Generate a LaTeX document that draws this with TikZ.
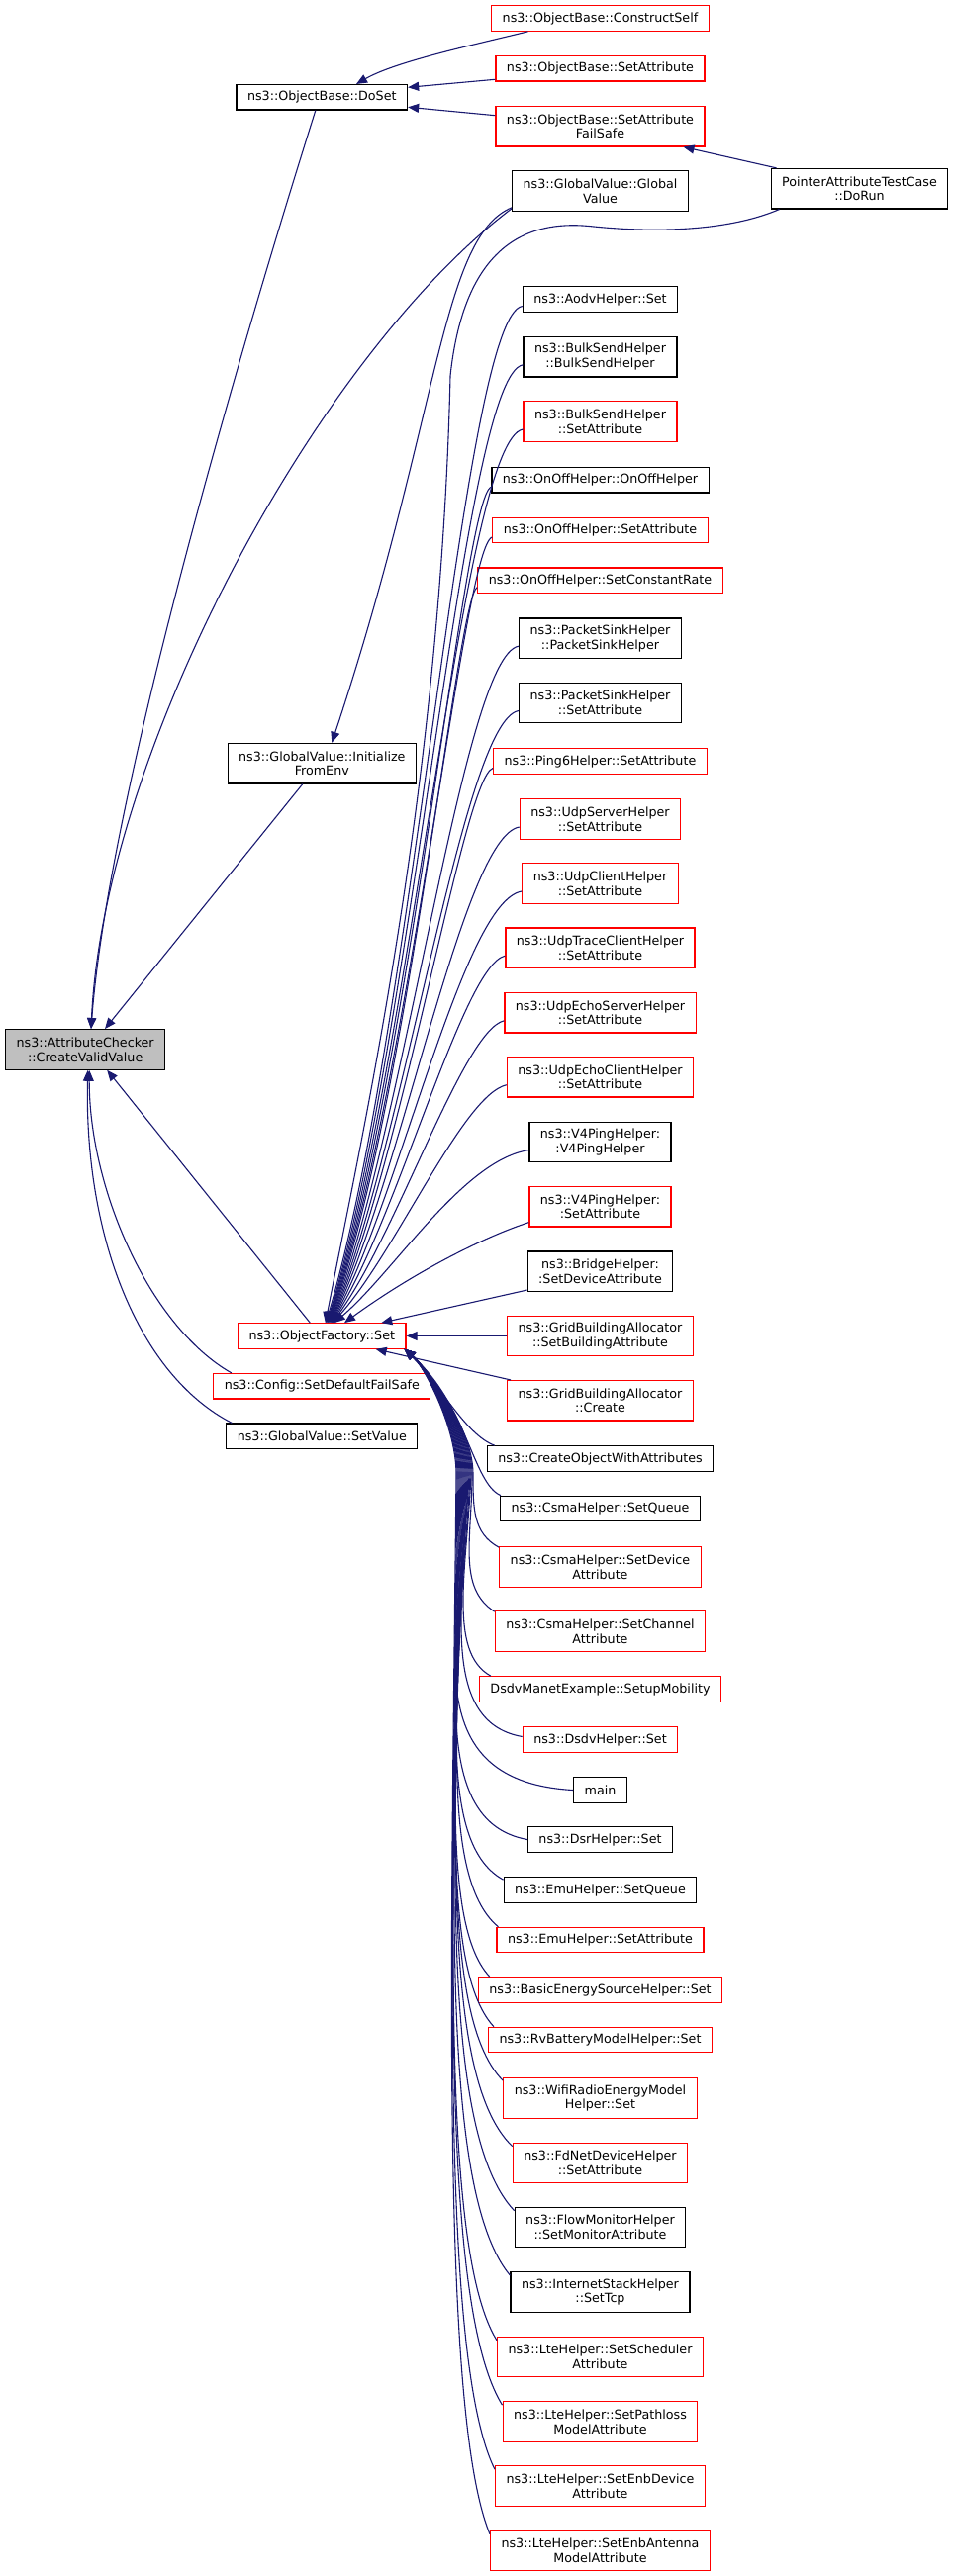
\documentclass[tikz,border=0pt]{standalone}
\usepackage{fontspec}
\setmainfont{DejaVu Sans}
\usetikzlibrary{arrows.meta,calc}
\definecolor{edgeblue}{HTML}{191970}
\definecolor{rb}{HTML}{FF0000}
\definecolor{cvvfill}{HTML}{BFBFBF}
\begin{document}
\begin{tikzpicture}[x=1pt,y=-1pt,
  box/.style={draw, line width=1.2pt, inner xsep=11pt, inner ysep=0pt, align=center, font=\fontsize{12.7}{14.8}\selectfont},
  blk/.style={box, draw=black},
  redb/.style={box, draw=rb},
  one/.style={minimum height=25.5pt},
  two/.style={minimum height=40.5pt},
  edge/.style={draw=edgeblue, line width=1.1pt, -{Triangle[length=11pt,width=9pt]}}]
\fill[white] (0,0) rectangle (965,2604);
\useasboundingbox (0,0) rectangle (965,2604);
% rank 0
\node[blk, two, fill=cvvfill] (cvv) at (86.2,1060.9) {ns3::AttributeChecker\\::CreateValidValue};
% rank 1
\node[blk, one] (doset) at (325.3,98.3) {ns3::ObjectBase::DoSet};
\node[blk, two] (ife) at (325.3,771.7) {ns3::GlobalValue::Initialize\\FromEnv};
\node[redb, one] (ofs) at (325.3,1350.5) {ns3::ObjectFactory::Set};
\node[redb, one] (cfg) at (325.3,1401.2) {ns3::Config::SetDefaultFailSafe};
\node[blk, one] (sv) at (325.3,1451.8) {ns3::GlobalValue::SetValue};
% rank 3
\node[blk, two] (ptr) at (868.5,190.7) {PointerAttributeTestCase\\::DoRun};
% rank 2
\node[redb, one] (cs) at (606.5,18.5) {ns3::ObjectBase::ConstructSelf};
\node[redb, one] (osa) at (606.5,69.3) {ns3::ObjectBase::SetAttribute};
\node[redb, two] (fs) at (606.5,127.7) {ns3::ObjectBase::SetAttribute\\FailSafe};
\node[blk, two] (gv) at (606.5,193) {ns3::GlobalValue::Global\\Value};
\node[blk, one] (aodv) at (606.5,302.5) {ns3::AodvHelper::Set};
\node[blk, two] (bsb) at (606.5,360.8) {ns3::BulkSendHelper\\::BulkSendHelper};
\node[redb, two] (bss) at (606.5,426) {ns3::BulkSendHelper\\::SetAttribute};
\node[blk, one] (oo) at (606.5,485.3) {ns3::OnOffHelper::OnOffHelper};
\node[redb, one] (oos) at (606.5,536) {ns3::OnOffHelper::SetAttribute};
\node[redb, one] (oocr) at (606.5,586.7) {ns3::OnOffHelper::SetConstantRate};
\node[blk, two] (psb) at (606.5,645.2) {ns3::PacketSinkHelper\\::PacketSinkHelper};
\node[blk, two] (pss) at (606.5,710.5) {ns3::PacketSinkHelper\\::SetAttribute};
\node[redb, one] (ping) at (606.5,769.5) {ns3::Ping6Helper::SetAttribute};
\node[redb, two] (udps) at (606.5,828) {ns3::UdpServerHelper\\::SetAttribute};
\node[redb, two] (udpc) at (606.5,893) {ns3::UdpClientHelper\\::SetAttribute};
\node[redb, two] (udpt) at (606.5,958.2) {ns3::UdpTraceClientHelper\\::SetAttribute};
\node[redb, two] (ues) at (606.5,1023.8) {ns3::UdpEchoServerHelper\\::SetAttribute};
\node[redb, two] (uec) at (606.5,1088.7) {ns3::UdpEchoClientHelper\\::SetAttribute};
\node[blk, two] (v4p) at (606.5,1154.6) {ns3::V4PingHelper:\\:V4PingHelper};
\node[redb, two] (v4s) at (606.5,1219.7) {ns3::V4PingHelper:\\:SetAttribute};
\node[blk, two] (br) at (606.5,1285.2) {ns3::BridgeHelper:\\:SetDeviceAttribute};
\node[redb, two] (gsb) at (606.5,1350.5) {ns3::GridBuildingAllocator\\::SetBuildingAttribute};
\node[redb, two] (gc) at (606.5,1415.8) {ns3::GridBuildingAllocator\\::Create};
\node[blk, one] (cowa) at (606.5,1474.5) {ns3::CreateObjectWithAttributes};
\node[blk, one] (csq) at (606.5,1525) {ns3::CsmaHelper::SetQueue};
\node[redb, two] (csd) at (606.5,1584) {ns3::CsmaHelper::SetDevice\\Attribute};
\node[redb, two] (csc) at (606.5,1649) {ns3::CsmaHelper::SetChannel\\Attribute};
\node[redb, one] (dsdvm) at (606.5,1707.5) {DsdvManetExample::SetupMobility};
\node[redb, one] (dsdvh) at (606.5,1758.5) {ns3::DsdvHelper::Set};
\node[blk, one] (main) at (606.5,1809.5) {main};
\node[blk, one] (dsr) at (606.5,1859.5) {ns3::DsrHelper::Set};
\node[blk, one] (emuq) at (606.5,1910.5) {ns3::EmuHelper::SetQueue};
\node[redb, one] (emua) at (606.5,1961) {ns3::EmuHelper::SetAttribute};
\node[redb, one] (bes) at (606.5,2011.5) {ns3::BasicEnergySourceHelper::Set};
\node[redb, one] (rv) at (606.5,2062) {ns3::RvBatteryModelHelper::Set};
\node[redb, two] (wifi) at (606.5,2121) {ns3::WifiRadioEnergyModel\\Helper::Set};
\node[redb, two] (fd) at (606.5,2186.5) {ns3::FdNetDeviceHelper\\::SetAttribute};
\node[blk, two] (flow) at (606.5,2251.5) {ns3::FlowMonitorHelper\\::SetMonitorAttribute};
\node[blk, two] (inet) at (606.5,2317) {ns3::InternetStackHelper\\::SetTcp};
\node[redb, two] (ltes) at (606.5,2382.5) {ns3::LteHelper::SetScheduler\\Attribute};
\node[redb, two] (ltep) at (606.5,2448) {ns3::LteHelper::SetPathloss\\ModelAttribute};
\node[redb, two] (lted) at (606.5,2513) {ns3::LteHelper::SetEnbDevice\\Attribute};
\node[redb, two] (ltea) at (606.5,2578.5) {ns3::LteHelper::SetEnbAntenna\\ModelAttribute};

% edges into DoSet
\draw[edge] ($(cs.south)+(-73,0)$) .. controls (480,45) and (400,62) .. ($(doset.north)+(34.7,0)$);
\draw[edge] ($(osa.west)+(0,11)$) -- ($(doset.east)+(0,-10)$);
\draw[edge] ($(fs.west)+(0,-11)$) -- ($(doset.east)+(0,10)$);
\draw[edge] ($(ptr.north west)+(6,0)$) -- ($(fs.south)+(84,0)$);
% edges into CreateValidValue
\draw[edge] ($(doset.south)+(-6.5,0)$) .. controls (250,330) and (110,800) .. ($(cvv.north)+(5.8,0)$);
\draw[edge] ($(gv.south west)+(0,-3)$) .. controls (320,360) and (105,760) .. ($(cvv.north)+(5.8,0)$);
\draw[edge] ($(ife.south)+(-19.5,0)$) -- ($(cvv.north)+(19.8,0)$);
\draw[edge] ($(ofs.north)+(-12,0)$) -- ($(cvv.south)+(22,0)$);
\draw[edge] ($(cfg.north)+(-91.5,0)$) .. controls (150,1340) and (90,1200) .. ($(cvv.south)+(4,0)$);
\draw[edge] ($(sv.north)+(-91,0)$) .. controls (140,1390) and (85,1250) .. ($(cvv.south)+(2.5,0)$);
% GlobalValue -> InitializeFromEnv
\draw[edge] ($(gv.south west)+(0,-4)$) .. controls (445,240) and (445,420) .. ($(ife.north)+(10,0)$);
% edges into ObjectFactory::Set from above
\draw[edge] ($(ptr.south west)+(9,0)$) .. controls (740,232) and (670,236) .. (600,229) .. controls (540,222) and (470,240) .. (455,380) .. controls (445,800) and (365,1150) .. ($(ofs.north)+(3.5,0)$);
\draw[edge] ($(aodv.west)+(0,7)$) .. controls (468,319.5) and (419.9,1029.3) .. ($(ofs.north)+(4,0)$);
\draw[edge] ($(bsb.west)+(0,8)$) .. controls (468,378.8) and (418.4,1047) .. ($(ofs.north)+(5,0)$);
\draw[edge] ($(bss.west)+(0,8)$) .. controls (468,444) and (416.8,1066.6) .. ($(ofs.north)+(5.5,0)$);
\draw[edge] ($(oo.west)+(0,7)$) .. controls (468,502.3) and (415.4,1084.1) .. ($(ofs.north)+(6,0)$);
\draw[edge] ($(oos.west)+(0,7)$) .. controls (468,553) and (414,1099.3) .. ($(ofs.north)+(6.5,0)$);
\draw[edge] ($(oocr.west)+(0,7)$) .. controls (462,603.7) and (412.8,1114.5) .. ($(ofs.north)+(7,0)$);
\draw[edge] ($(psb.west)+(0,8)$) .. controls (468,663.2) and (411.3,1132.4) .. ($(ofs.north)+(7.5,0)$);
\draw[edge] ($(pss.west)+(0,8)$) .. controls (468,728.5) and (409.7,1152) .. ($(ofs.north)+(8,0)$);
\draw[edge] ($(ping.west)+(0,7)$) .. controls (468,786.5) and (408.2,1169.4) .. ($(ofs.north)+(8.5,0)$);
\draw[edge] ($(udps.west)+(0,8)$) .. controls (468,846) and (406.7,1187.2) .. ($(ofs.north)+(9,0)$);
\draw[edge] ($(udpc.west)+(0,8)$) .. controls (468,911) and (405.1,1206.7) .. ($(ofs.north)+(9.5,0)$);
\draw[edge] ($(udpt.west)+(0,8)$) .. controls (468,976.2) and (403.5,1226.3) .. ($(ofs.north)+(10,0)$);
\draw[edge] ($(ues.west)+(0,8)$) .. controls (468,1041.8) and (401.8,1246) .. ($(ofs.north)+(10.5,0)$);
\draw[edge] ($(uec.west)+(0,8)$) .. controls (468,1106.7) and (400.2,1265.4) .. ($(ofs.north)+(11,0)$);
\draw[edge] ($(v4p.west)+(0,8)$) .. controls (468,1172.6) and (398.6,1285.2) .. ($(ofs.north)+(12.5,0)$);
\draw[edge] ($(v4s.west)+(0,16)$) .. controls (490,1250) and (420,1285) .. ($(ofs.north)+(22.7,0)$);
\draw[edge] ($(br.south west)+(0,-2)$) -- ($(ofs.north)+(60,0)$);
% same row and below
\draw[edge] (gsb.west) -- (ofs.east);
\draw[edge] ($(gc.north west)+(4,0)$) -- ($(ofs.south east)+(-31,0)$);
\draw[edge] ($(cowa.north west)+(8,0)$) .. controls (470,1450) and (445,1400) .. ($(ofs.south east)+(-2,0)$);
\draw[edge] ($(csq.north west)+(1,0)$) .. controls (478,1500) and (472,1420) .. ($(ofs.south east)+(-2,0)$);
\draw[edge] ($(csd.north west)+(0,1)$) .. controls (478,1550) and (478,1525) .. (478,1490) .. controls (478,1440) and (426,1378) .. ($(ofs.south east)+(-2,0)$);
\draw[edge] ($(csc.north west)+(0,1)$) .. controls (462,1605) and (477,1555) .. (477,1490) .. controls (477,1440) and (426,1378) .. ($(ofs.south east)+(-2,0)$);
\draw[edge] ($(dsdvm.north west)+(12,0)$) .. controls (452,1670) and (472,1585) .. (476,1490) .. controls (476,1440) and (426,1378) .. ($(ofs.south east)+(-2,0)$);
\draw[edge] ($(dsdvh.west)+(0,-3)$) .. controls (440,1740) and (470,1610) .. (475,1490) .. controls (475,1440) and (426,1378) .. ($(ofs.south east)+(-2,0)$);
\draw[edge] (main.west) .. controls (410,1800) and (468,1640) .. (474,1490) .. controls (474,1440) and (426,1378) .. ($(ofs.south east)+(-2,0)$);
\draw[edge] (dsr.west) .. controls (425,1840) and (468,1660) .. (473,1490) .. controls (473,1440) and (426,1378) .. ($(ofs.south east)+(-2,0)$);
\draw[edge] ($(emuq.north west)+(0,3)$) .. controls (435,1860) and (467,1680) .. (472,1490) .. controls (472,1440) and (426,1378) .. ($(ofs.south east)+(-2,0)$);
\draw[edge] ($(emua.north west)+(2,0)$) .. controls (440,1895) and (466,1700) .. (471,1490) .. controls (471,1440) and (426,1378) .. ($(ofs.south east)+(-2,0)$);
\draw[edge] ($(bes.north west)+(12,0)$) .. controls (440,1940) and (465,1722) .. (470,1490) .. controls (470,1440) and (426,1378) .. ($(ofs.south east)+(-2,0)$);
\draw[edge] ($(rv.north west)+(6,0)$) .. controls (440,1985) and (464,1745) .. (469,1490) .. controls (469,1440) and (426,1378) .. ($(ofs.south east)+(-2,0)$);
\draw[edge] ($(wifi.north west)+(0,3)$) .. controls (440,2035) and (463,1771) .. (468,1490) .. controls (468,1440) and (426,1378) .. ($(ofs.south east)+(-2,0)$);
\draw[edge] ($(fd.north west)+(0,4)$) .. controls (440,2095) and (462,1800) .. (467,1490) .. controls (467,1440) and (426,1378) .. ($(ofs.south east)+(-2,0)$);
\draw[edge] ($(flow.north west)+(0,4)$) .. controls (440,2150) and (461,1830) .. (466,1490) .. controls (466,1440) and (426,1378) .. ($(ofs.south east)+(-2,0)$);
\draw[edge] ($(inet.north west)+(0,4)$) .. controls (440,2210) and (460,1860) .. (465,1490) .. controls (465,1440) and (426,1378) .. ($(ofs.south east)+(-2,0)$);
\draw[edge] ($(ltes.north west)+(0,4)$) .. controls (442,2268) and (459,1889) .. (464,1490) .. controls (464,1440) and (426,1378) .. ($(ofs.south east)+(-2,0)$);
\draw[edge] ($(ltep.north west)+(0,4)$) .. controls (442,2325) and (458,1918) .. (463,1490) .. controls (463,1440) and (426,1378) .. ($(ofs.south east)+(-2,0)$);
\draw[edge] ($(lted.north west)+(0,4)$) .. controls (444,2383) and (457,1948) .. (462,1490) .. controls (462,1440) and (426,1378) .. ($(ofs.south east)+(-2,0)$);
\draw[edge] ($(ltea.north west)+(0,4)$) .. controls (445,2440) and (456,1977) .. (461,1490) .. controls (461,1440) and (426,1378) .. ($(ofs.south east)+(-2,0)$);
\end{tikzpicture}
\end{document}
